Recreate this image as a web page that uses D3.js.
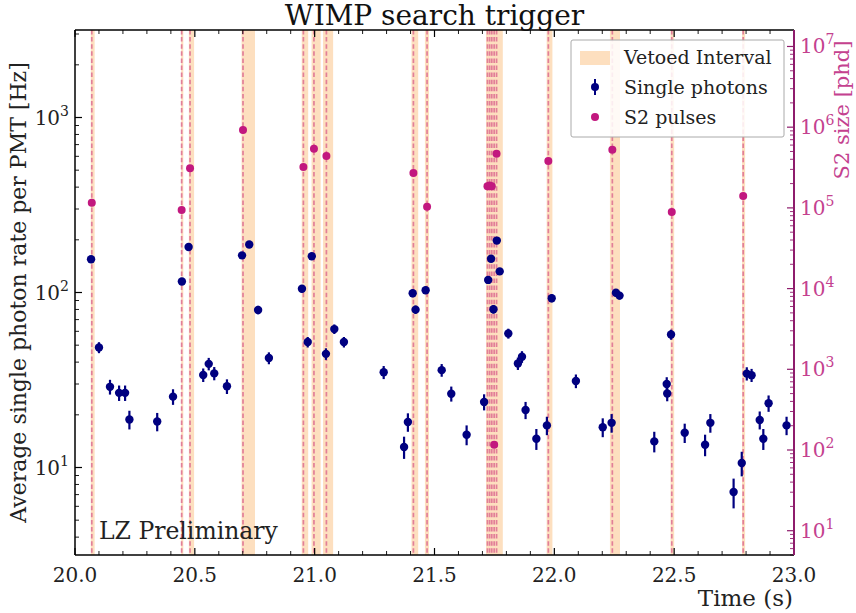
<!DOCTYPE html>
<html><head><meta charset="utf-8">
<script src="https://cdn.jsdelivr.net/npm/d3@7"></script>
<style>body{margin:0;background:#fff} text{font-family:"DejaVu Serif",serif}</style>
</head><body><svg id="c" width="856" height="613"></svg>
<script>
// ---------- data ----------
const spTimes = [20.067,20.100,20.146,20.184,20.209,20.227,20.343,20.409,20.446,20.474,
  20.535,20.558,20.581,20.634,20.697,20.727,20.764,20.809,20.947,20.971,
  20.988,21.047,21.082,21.122,21.288,21.373,21.389,21.409,21.421,21.463,
  21.530,21.570,21.634,21.707,21.724,21.736,21.746,21.760,21.772,21.808,
  21.848,21.865,21.880,21.925,21.969,21.989,22.090,22.202,22.239,22.257,
  22.272,22.417,22.469,22.471,22.487,22.544,22.629,22.651,22.748,22.782,
  22.803,22.823,22.857,22.872,22.894,22.969];
const spRates = [155,48.5,28.9,26.7,26.7,18.8,18.3,25.4,115.6,182,
  33.8,39.1,34.5,29.1,163,188,79.5,42.2,105,52.1,
  161,44.6,61.8,52.1,35,13.1,18.2,99,79.8,103,
  36,26.4,15.4,23.7,118,156,80.2,198,132,58.3,
  39.3,42.9,21.3,14.6,17.4,92.7,31.2,17.0,18.0,99.6,
  96,14.1,30,26.5,57.5,15.8,13.5,18.0,7.24,10.6,
  34.4,33.7,18.7,14.6,23.3,17.4];
const spErrors = [6,3.5,2.8,2.7,2.7,2.3,2.2,2.6,5.3,6.5,
  3,3.2,3,2.8,6.2,6.6,4.4,3.3,5.1,3.6,
  6.2,3.4,3.9,3.6,3,1.9,2.2,5,4.4,5,
  3,2.6,2,2.5,5.4,6.2,4.5,7,5.7,3.8,
  3.2,3.3,2.4,2,2.1,4.8,2.8,2.1,2.2,5,
  4.9,1.9,2.8,2.6,3.8,2,1.9,2.2,1.4,1.7,
  3,2.9,2.2,2,2.5,2.1];
const s2Times = [20.070,20.445,20.480,20.701,20.953,20.997,21.049,21.412,21.469,
  21.721,21.730,21.739,21.749,21.759,21.975,22.242,22.490,22.788];
const s2Sizes = [1.16e5,9.4e4,3.1e5,9.2e5,3.2e5,5.4e5,4.4e5,2.7e5,1.03e5,
  1.86e5,1.9e5,1.86e5,116,4.7e5,3.8e5,5.25e5,8.9e4,1.4e5];
const vetoStarts = [20.066,20.443,20.475,20.695,20.946,20.987,21.035,21.404,21.460,21.715,21.968,22.232,22.485,22.783];
const vetoEnds   = [20.082,20.452,20.497,20.751,20.973,21.025,21.077,21.432,21.477,21.785,21.992,22.274,22.500,22.796];
const xMajorTicks = [20.0,20.5,21.0,21.5,22.0,22.5,23.0];
const xTickLabels = ["20.0","20.5","21.0","21.5","22.0","22.5","23.0"];
const leftExponents = [1,2,3];
const rightExponents = [1,2,3,4,5,6,7];
const legendLabels = ["Vetoed Interval","Single photons","S2 pulses"];

// ---------- layout ----------
const L=75, R=794, T=30, B=555;
const navy="#000080", mag="#c2187f", rightCol="#8e1c6c", rightTxt="#c4418f";
const bandCol="#fddfbf", dashCol="#e27f98";
const svg=d3.select("#c");
const x=d3.scaleLinear().domain([20,23]).range([L,R]);
const yL=d3.scaleLog().domain([Math.sqrt(10),1000*Math.sqrt(10)]).range([B,T]);
const yR=d3.scaleLog().domain([5,1.6e7]).range([B,T]);

const defs=svg.append("defs");
defs.append("clipPath").attr("id","clip").append("rect").attr("x",L).attr("y",T).attr("width",R-L).attr("height",B-T);
const plot=svg.append("g").attr("clip-path","url(#clip)");

// bands
plot.selectAll("rect.band").data(vetoStarts.map((s,i)=>[s,vetoEnds[i]])).join("rect")
  .attr("class","band").attr("x",d=>x(d[0])).attr("width",d=>x(d[1])-x(d[0]))
  .attr("y",T).attr("height",B-T).attr("fill",bandCol);
// dashed lines
plot.selectAll("line.s2l").data(s2Times).join("line").attr("class","s2l")
  .attr("x1",d=>x(d)).attr("x2",d=>x(d)).attr("y1",T).attr("y2",B)
  .attr("stroke",dashCol).attr("stroke-width",1.7).attr("stroke-dasharray","4.5,2.6");

// single photons
const sp=spTimes.map((t,i)=>({t,v:spRates[i],e:spErrors[i]}));
plot.selectAll("line.err").data(sp).join("line").attr("class","err")
  .attr("x1",d=>x(d.t)).attr("x2",d=>x(d.t)).attr("y1",d=>yL(d.v-d.e)).attr("y2",d=>yL(d.v+d.e))
  .attr("stroke",navy).attr("stroke-width",2.2);
plot.selectAll("circle.sp").data(sp).join("circle").attr("class","sp")
  .attr("cx",d=>x(d.t)).attr("cy",d=>yL(d.v)).attr("r",4.2).attr("fill",navy);
// S2
plot.selectAll("circle.s2").data(s2Times.map((t,i)=>({t,v:s2Sizes[i]}))).join("circle").attr("class","s2")
  .attr("cx",d=>x(d.t)).attr("cy",d=>yR(d.v)).attr("r",4).attr("fill",mag);

// ---------- axes ----------
const ax=svg.append("g");
const xMinor=d3.range(20,23.001,0.1).map(v=>+v.toFixed(2)).filter(v=>!xMajorTicks.some(m=>Math.abs(m-v)<1e-6));
xMajorTicks.forEach(v=>{
  ax.append("line").attr("x1",x(v)).attr("x2",x(v)).attr("y1",B).attr("y2",B-7).attr("stroke","#000").attr("stroke-width",1.2);
  ax.append("line").attr("x1",x(v)).attr("x2",x(v)).attr("y1",T).attr("y2",T+7).attr("stroke","#000").attr("stroke-width",1.2);
});
xMinor.forEach(v=>{
  ax.append("line").attr("x1",x(v)).attr("x2",x(v)).attr("y1",B).attr("y2",B-4).attr("stroke","#000").attr("stroke-width",0.9);
  ax.append("line").attr("x1",x(v)).attr("x2",x(v)).attr("y1",T).attr("y2",T+4).attr("stroke","#000").attr("stroke-width",0.9);
});
ax.selectAll("text.xt").data(xMajorTicks).join("text").attr("class","xt")
  .attr("x",d=>x(d)).attr("y",B+27).attr("text-anchor","middle").attr("font-size",20).attr("fill","#222")
  .text((d,i)=>xTickLabels[i]);

// left y ticks
yL.ticks().forEach(v=>{
  const major=Math.abs(Math.log10(v)-Math.round(Math.log10(v)))<1e-9;
  ax.append("line").attr("x1",L).attr("x2",L+(major?7:4)).attr("y1",yL(v)).attr("y2",yL(v)).attr("stroke","#000").attr("stroke-width",major?1.2:0.9);
});
leftExponents.forEach(e=>{
  const t=ax.append("text").attr("x",L-6).attr("y",yL(Math.pow(10,e))+7).attr("text-anchor","end").attr("font-size",20).attr("fill","#222");
  t.append("tspan").text("10");
  t.append("tspan").attr("dy",-9).attr("font-size",14).text(e);
});
// right y ticks
yR.ticks().forEach(v=>{
  const major=Math.abs(Math.log10(v)-Math.round(Math.log10(v)))<1e-9;
  ax.append("line").attr("x1",R).attr("x2",R-(major?7:4)).attr("y1",yR(v)).attr("y2",yR(v)).attr("stroke",rightCol).attr("stroke-width",major?1.2:0.9);
});
rightExponents.forEach(e=>{
  const t=ax.append("text").attr("x",R+6).attr("y",yR(Math.pow(10,e))+7).attr("text-anchor","start").attr("font-size",20).attr("fill",rightTxt);
  t.append("tspan").text("10");
  t.append("tspan").attr("dy",-9).attr("font-size",14).text(e);
});

// spines
ax.append("line").attr("x1",L).attr("x2",R).attr("y1",B).attr("y2",B).attr("stroke","#000").attr("stroke-width",1.5);
ax.append("line").attr("x1",L).attr("x2",R).attr("y1",T).attr("y2",T).attr("stroke","#000").attr("stroke-width",1.5);
ax.append("line").attr("x1",L).attr("x2",L).attr("y1",T).attr("y2",B).attr("stroke","#000").attr("stroke-width",1.5);
ax.append("line").attr("x1",R).attr("x2",R).attr("y1",T).attr("y2",B).attr("stroke",rightCol).attr("stroke-width",2);

// labels
svg.append("text").attr("x",(L+R)/2).attr("y",25).attr("text-anchor","middle").attr("font-size",28).attr("fill","#111").text("WIMP search trigger");
svg.append("text").attr("transform",`translate(26,${(T+B)/2}) rotate(-90)`).attr("text-anchor","middle").attr("font-size",22).attr("fill","#222").text("Average single photon rate per PMT [Hz]");
svg.append("text").attr("transform",`translate(849,110) rotate(-90)`).attr("text-anchor","middle").attr("font-size",21).attr("fill",rightTxt).text("S2 size [phd]");
svg.append("text").attr("x",R-1).attr("y",606).attr("text-anchor","end").attr("font-size",23).attr("fill","#222").text("Time (s)");
svg.append("text").attr("x",99).attr("y",539).attr("font-size",23.5).attr("fill","#222").text("LZ Preliminary");

// legend
const lg=svg.append("g");
lg.append("rect").attr("x",571).attr("y",40).attr("width",213).attr("height",97).attr("rx",2)
  .attr("fill","#fff").attr("fill-opacity",0.85).attr("stroke","#aaa").attr("stroke-width",1);
lg.append("rect").attr("x",580).attr("y",51).attr("width",30).attr("height",14).attr("fill",bandCol);
lg.append("line").attr("x1",595).attr("x2",595).attr("y1",79).attr("y2",95).attr("stroke",navy).attr("stroke-width",2);
lg.append("circle").attr("cx",595).attr("cy",87).attr("r",4).attr("fill",navy);
lg.append("circle").attr("cx",595).attr("cy",117).attr("r",4).attr("fill",mag);
lg.selectAll("text").data(legendLabels).join("text").attr("x",624).attr("y",(d,i)=>64+i*30)
  .attr("font-size",19).attr("fill","#222").text(d=>d);
</script></body></html>
